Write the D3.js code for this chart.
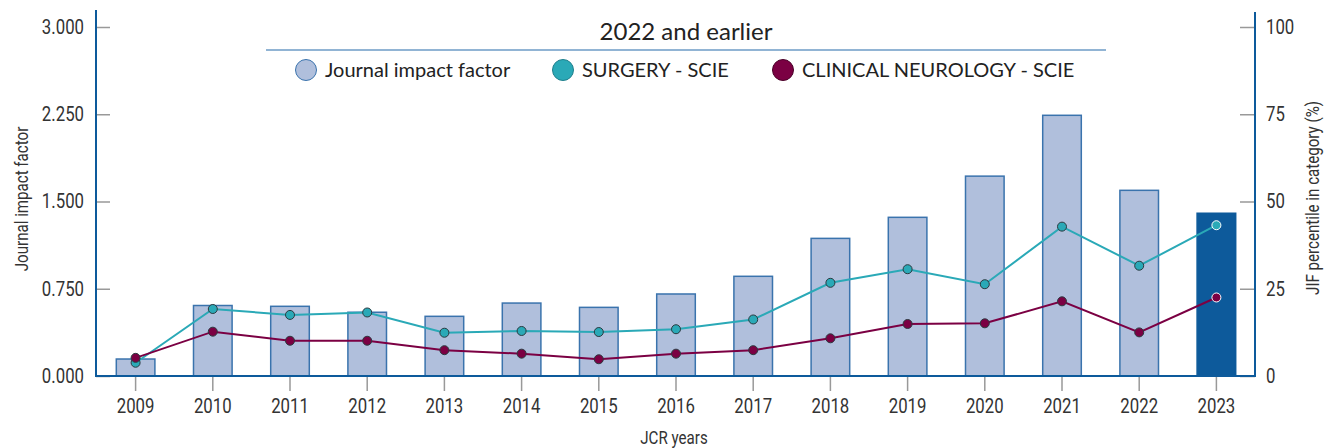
<!DOCTYPE html>
<head>
    <meta charset="utf-8">
    <script src="https://cdn.jsdelivr.net/npm/d3@7"></script>
    <style>
        body { margin: 0; background: #fff; }
    </style>
</head>
<body>
    <svg></svg>
</body>

<script>
    // Data
    var years = ["2009", "2010", "2011", "2012", "2013", "2014", "2015", "2016",
                 "2017", "2018", "2019", "2020", "2021", "2022", "2023"];
    var jif = [0.146, 0.606, 0.599, 0.548, 0.513, 0.627, 0.590, 0.705,
               0.857, 1.183, 1.364, 1.718, 2.241, 1.596, 1.399];
    var surgery = [3.8, 19.2, 17.5, 18.2, 12.4, 12.9, 12.6, 13.4,
                   16.2, 26.7, 30.6, 26.3, 42.8, 31.6, 43.2];
    var neurology = [5.2, 12.7, 10.1, 10.1, 7.4, 6.4, 4.8, 6.4,
                     7.4, 10.8, 14.9, 15.1, 21.4, 12.5, 22.5];
    var leftTicks = [0, 0.75, 1.5, 2.25, 3];
    var rightTicks = [0, 25, 50, 75, 100];
    var legendNames = ["Journal impact factor", "SURGERY - SCIE", "CLINICAL NEUROLOGY - SCIE"];

    // Variables
    var width = 1333;
    var height = 448;
    var axisBlue = '#0d5a9b';
    var barFill = '#b0bfdc';
    var barStroke = '#3a73ad';
    var teal = '#2aa9b7';
    var maroon = '#7b0043';
    var textColor = '#333';
    var narrow = 0.84;   // squeeze Roboto to look like a condensed face
    var axisFont = 'Roboto, sans-serif';

    var svg = d3.select('svg')
        .attr('width', width)
        .attr('height', height);

    var x = d3.scaleBand()
        .domain(years)
        .range([97, 1255])
        .paddingInner(0.5)
        .paddingOuter(0.25);
    var yL = d3.scaleLinear().domain([0, 3]).range([376, 27]);
    var yR = d3.scaleLinear().domain([0, 100]).range([376, 27]);
    var cx = function (d, i) { return x(years[i]) + x.bandwidth() / 2; };

    // Bars
    svg.append('g').selectAll('rect')
        .data(jif)
        .enter().append('rect')
        .attr('x', function (d, i) { return x(years[i]); })
        .attr('y', function (d) { return yL(d); })
        .attr('width', x.bandwidth())
        .attr('height', function (d) { return yL(0) - yL(d); })
        .style('fill', function (d, i) { return i === years.length - 1 ? axisBlue : barFill; })
        .style('stroke', function (d, i) { return i === years.length - 1 ? axisBlue : barStroke; })
        .style('stroke-width', 1.5);

    // Axes
    var leftAxis = svg.append('g')
        .attr('transform', 'translate(96,0)')
        .call(d3.axisLeft(yL).tickValues(leftTicks).tickFormat(d3.format('.3f'))
            .tickSizeInner(-14).tickSizeOuter(0).tickPadding(12));
    var rightAxis = svg.append('g')
        .attr('transform', 'translate(1255,0)')
        .call(d3.axisRight(yR).tickValues(rightTicks)
            .tickSizeInner(-15).tickSizeOuter(0).tickPadding(11));
    var bottomAxis = svg.append('g')
        .attr('transform', 'translate(0,377)')
        .call(d3.axisBottom(x).tickSizeInner(14).tickSizeOuter(0).tickPadding(8));

    [leftAxis, rightAxis, bottomAxis].forEach(function (a) {
        a.select('.domain').remove();
        a.selectAll('.tick line').style('stroke', '#999').style('stroke-width', 1.5);
        a.selectAll('.tick text')
            .style('fill', textColor).style('font-size', '20px')
            .style('font-family', axisFont)
            .attr('x', function () { return +d3.select(this).attr('x') / narrow || 0; })
            .attr('transform', 'scale(' + narrow + ',1)');
    });

    // Axis lines
    svg.append('line').attr('x1', 96).attr('x2', 96).attr('y1', 10).attr('y2', 377)
        .style('stroke', axisBlue).style('stroke-width', 2);
    svg.append('line').attr('x1', 1255).attr('x2', 1255).attr('y1', 12).attr('y2', 377)
        .style('stroke', axisBlue).style('stroke-width', 2);
    svg.append('line').attr('x1', 95).attr('x2', 1256).attr('y1', 376).attr('y2', 376)
        .style('stroke', axisBlue).style('stroke-width', 2);

    // Axis titles
    svg.append('text')
        .attr('transform', 'translate(28,199) rotate(-90) scale(' + narrow + ',1)')
        .attr('text-anchor', 'middle')
        .style('font-family', axisFont)
        .style('font-size', '18px').style('fill', textColor)
        .text('Journal impact factor');
    svg.append('text')
        .attr('transform', 'translate(1319,198) rotate(-90) scale(' + narrow + ',1)')
        .attr('text-anchor', 'middle')
        .style('font-family', axisFont)
        .style('font-size', '18px').style('fill', textColor)
        .text('JIF percentile in category (%)');
    svg.append('text')
        .attr('transform', 'translate(674,444) scale(' + narrow + ',1)')
        .attr('text-anchor', 'middle')
        .style('font-family', axisFont)
        .style('font-size', '18px').style('fill', textColor)
        .text('JCR years');

    // Lines and points
    var line = d3.line()
        .x(cx)
        .y(function (d) { return yR(d); });

    [[surgery, teal], [neurology, maroon]].forEach(function (s) {
        svg.append('path')
            .datum(s[0])
            .attr('d', line)
            .style('fill', 'none')
            .style('stroke', s[1])
            .style('stroke-width', 2);
        svg.append('g').selectAll('circle')
            .data(s[0])
            .enter().append('circle')
            .attr('cx', cx)
            .attr('cy', function (d) { return yR(d); })
            .attr('r', 4.5)
            .style('fill', s[1])
            .style('stroke', function (d, i) { return i === years.length - 1 ? '#fff' : '#2b3a40'; })
            .style('stroke-width', 1);
    });

    // Legend
    var legend = svg.append('g').style('font-family', 'Lato, sans-serif');
    legend.append('text')
        .attr('x', 686).attr('y', 40)
        .attr('text-anchor', 'middle')
        .style('font-size', '24px').style('fill', '#222')
        .text('2022 and earlier');
    legend.append('line')
        .attr('x1', 266).attr('x2', 1106).attr('y1', 50).attr('y2', 50)
        .style('stroke', '#6d9bc6').style('stroke-width', 1.5);

    var legendX = [306, 563, 783];
    var legendFill = [barFill, teal, maroon];
    var legendStroke = [barStroke, '#1f7f8c', '#4a0028'];
    legend.selectAll('g.item')
        .data(legendNames)
        .enter().append('g')
        .attr('class', 'item')
        .each(function (d, i) {
            var g = d3.select(this);
            g.append('circle')
                .attr('cx', legendX[i]).attr('cy', 70).attr('r', 10.5)
                .style('fill', legendFill[i])
                .style('stroke', legendStroke[i])
                .style('stroke-width', 1);
            g.append('text')
                .attr('x', legendX[i] + 19).attr('y', 77)
                .style('font-size', '20px').style('fill', '#222')
                .text(d);
        });
</script>
